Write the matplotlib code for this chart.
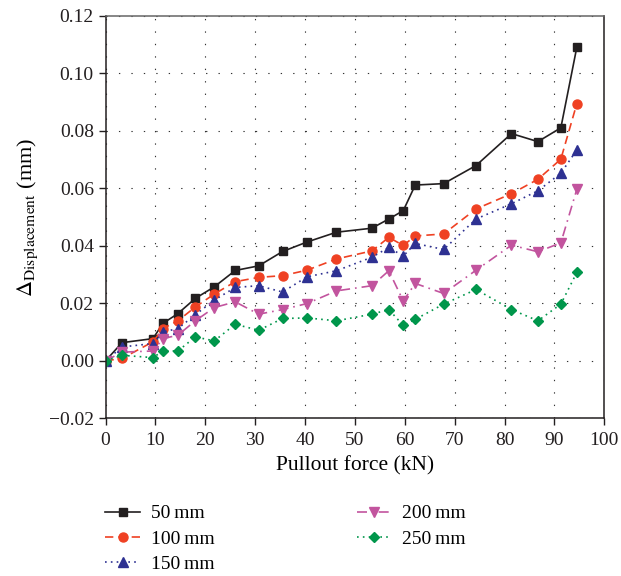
import matplotlib
matplotlib.use('Agg')
import matplotlib.pyplot as plt

plt.rcParams['font.family'] = ['Liberation Serif', 'DejaVu Serif']
plt.rcParams['mathtext.fontset'] = 'stix'

# --- data ---
force = [0, 3.3, 9.5, 11.5, 14.5, 18.0, 21.8, 26.0, 30.7, 35.5, 40.4, 46.3,
         53.4, 56.8, 59.7, 62.1, 67.8, 74.3, 81.4, 86.7, 91.3, 94.5]
d50 = [0, 0.0063, 0.0077, 0.0130, 0.0164, 0.0217, 0.0257, 0.0314, 0.0330, 0.0380,
       0.0413, 0.0447, 0.0461, 0.0493, 0.0522, 0.0611, 0.0616, 0.0679, 0.0790,
       0.0762, 0.0810, 0.1090]
d100 = [0, 0.0008, 0.0066, 0.0112, 0.0139, 0.0187, 0.0232, 0.0275, 0.0290, 0.0296,
        0.0315, 0.0354, 0.0382, 0.0429, 0.0401, 0.0434, 0.0441, 0.0528, 0.0581,
        0.0631, 0.0701, 0.0894]
d150 = [0, 0.0048, 0.0060, 0.0100, 0.0112, 0.0160, 0.0211, 0.0255, 0.0261, 0.0239,
        0.0292, 0.0313, 0.0360, 0.0394, 0.0364, 0.0408, 0.0387, 0.0493, 0.0546,
        0.0591, 0.0652, 0.0733]
d200 = [0, 0.0030, 0.0034, 0.0077, 0.0089, 0.0139, 0.0185, 0.0205, 0.0162, 0.0178,
        0.0199, 0.0243, 0.0261, 0.0313, 0.0208, 0.0269, 0.0234, 0.0315, 0.0402,
        0.0379, 0.0410, 0.0596]
d250 = [0, 0.0019, 0.0011, 0.0034, 0.0034, 0.0083, 0.0069, 0.0127, 0.0106, 0.0147,
        0.0149, 0.0139, 0.0162, 0.0178, 0.0123, 0.0144, 0.0197, 0.0248, 0.0178,
        0.0139, 0.0197, 0.0307]
labels = ['50\u2009mm', '100\u2009mm', '150\u2009mm', '200\u2009mm', '250\u2009mm']

fig = plt.figure(figsize=(6.21, 5.76), dpi=100)
ax = fig.add_axes([0.170, 0.2738, 0.803, 0.699])

styles = [
    (d50, '#231f20', '-', 's', 5.5),
    (d100, '#ef4123', (0, (5, 3)), 'o', 6.5),
    (d150, '#2e3192', (0, (1, 2.5)), '^', 7),
    (d200, '#c2549e', (0, (6, 3, 1, 3)), 'v', 7),
    (d250, '#00964b', (0, (1, 2.5)), 'D', 5.5),
]
for (ys, c, ls, m, ms), lab in zip(styles, labels):
    ax.plot(force, ys, color=c, linestyle=ls, marker=m, markersize=ms,
            lw=1.2, label=lab)

ax.set_xlim(0, 100)
ax.set_ylim(-0.02, 0.12)
ax.set_xticks(range(0, 101, 10))
ax.set_yticks([-0.02, 0, 0.02, 0.04, 0.06, 0.08, 0.10, 0.12])
ax.set_yticklabels(['\u22120.02', '0.00', '0.02', '0.04', '0.06', '0.08', '0.10', '0.12'])
ax.tick_params(labelsize=14, length=5, width=1, direction='out', colors='#231f20')
ax.tick_params(axis='x', pad=5)
ax.grid(True, color='#333333', lw=0.8, linestyle=(0, (1.2, 10)))
ax.set_axisbelow(True)
for s in ax.spines.values():
    s.set_linewidth(1.1)
    s.set_color('#231f20')
ax.spines['top'].set_color('#666666')

ax.set_xlabel('Pullout force (kN)', fontsize=15.5, labelpad=5)
ax.set_ylabel(r'$\Delta_{\mathrm{Displacement}}$ (mm)', fontsize=16, labelpad=6)

fig.legend(loc='upper left', bbox_to_anchor=(0.157, 0.137), ncol=2, frameon=False,
           fontsize=14, handlelength=1.8, handletextpad=0.55, columnspacing=7.3,
           labelspacing=0.4, borderaxespad=0)

fig.savefig('out.png', dpi=100, facecolor='white')
